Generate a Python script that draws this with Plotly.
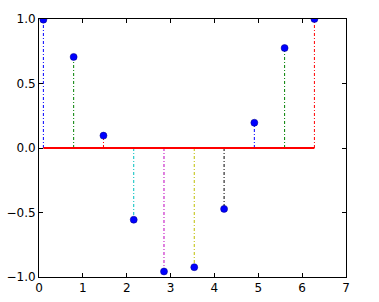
import plotly.graph_objects as go

x_vals = [0.10, 0.79, 1.47, 2.16, 2.85, 3.54, 4.22, 4.91, 5.60, 6.28]
y_vals = [0.995, 0.706, 0.096, -0.556, -0.957, -0.924, -0.472, 0.196, 0.775, 1.0]
stem_colors = ["#0000ff", "#008000", "#ff0000", "#00bfbf", "#bf00bf",
               "#bfbf00", "#000000", "#0000ff", "#008000", "#ff0000"]
x_ticks = [0, 1, 2, 3, 4, 5, 6, 7]
y_ticks = [-1.0, -0.5, 0.0, 0.5, 1.0]
y_tick_text = ["\u22121.0", "\u22120.5", "0.0", "0.5", "1.0"]

fig = go.Figure()
for xv, yv, c in zip(x_vals, y_vals, stem_colors):
    fig.add_trace(go.Scatter(x=[xv, xv], y=[0, yv], mode="lines",
                             line=dict(color=c, width=1, dash="3px,2px,1px,2px"),
                             showlegend=False, hoverinfo="skip"))
fig.add_trace(go.Scatter(x=[min(x_vals), max(x_vals)], y=[0, 0], mode="lines",
                         line=dict(color="#ff0000", width=2), showlegend=False))
fig.add_trace(go.Scatter(x=x_vals, y=y_vals, mode="markers",
                         marker=dict(color="#0000ff", size=7,
                                     line=dict(color="#000080", width=0.5)),
                         showlegend=False))

axis_common = dict(showgrid=False, zeroline=False, ticks="inside", ticklen=4,
                   tickcolor="#000000", showline=True, linecolor="#000000",
                   linewidth=1, mirror="ticks", automargin=False,
                   tickfont=dict(family="DejaVu Sans", size=12, color="#000000"))
fig.update_xaxes(range=[0, 7], tickvals=x_ticks, ticktext=[str(t) for t in x_ticks],
                 **axis_common)
fig.update_yaxes(range=[-1, 1], tickvals=y_ticks, ticktext=y_tick_text, **axis_common)
fig.update_layout(width=379, height=302, plot_bgcolor="white", paper_bgcolor="white",
                  margin=dict(l=39, r=33, t=19, b=25))
fig.write_html("out.html")
